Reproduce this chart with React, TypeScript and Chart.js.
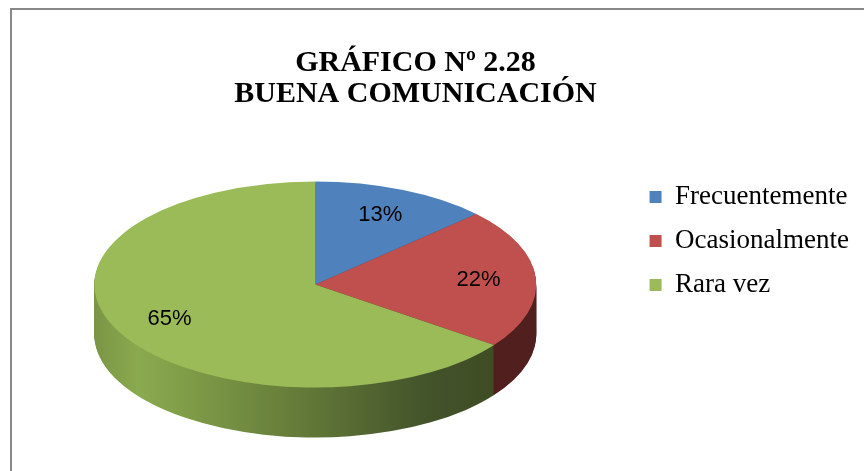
import React, { useEffect, useRef } from 'react';
import { Chart, registerables } from 'chart.js';

Chart.register(...registerables);

// ---- data ----
const categories = ['Frecuentemente', 'Ocasionalmente', 'Rara vez'];
const values = [13, 22, 65];
const titleLines = ['GRÁFICO Nº 2.28', 'BUENA COMUNICACIÓN'];

// ---- styles ----
const topColors = ['#4F81BD', '#C0504D', '#9BBB59'];
const RX = 221;
const RY = 103;
const DEPTH = 50;
const PIE_DX = -1;
const PIE_DY = -11;
const LABEL_F = 0.74;

function pieGeom(chart: any, el: any) {
  const area = chart.chartArea;
  const r = el.outerRadius;
  return {
    tx: (area.left + area.right) / 2 + PIE_DX,
    ty: (area.top + area.bottom) / 2 + PIE_DY,
    sx: RX / r,
    sy: RY / r,
    cx: el.x,
    cy: el.y,
    r,
  };
}

const framePlugin = {
  id: 'frame',
  beforeDraw(chart: any) {
    const ctx = chart.ctx;
    ctx.save();
    ctx.strokeStyle = '#888888';
    ctx.lineWidth = 2;
    ctx.beginPath();
    ctx.moveTo(11, chart.height + 5);
    ctx.lineTo(11, 9);
    ctx.lineTo(chart.width + 5, 9);
    ctx.stroke();
    ctx.restore();
  },
};

const pie3dPlugin = {
  id: 'pie3d',
  beforeDatasetsDraw(chart: any) {
    const els = chart.getDatasetMeta(0).data;
    const ctx = chart.ctx;
    ctx.save();
    if (!els.length) return;
    const g = pieGeom(chart, els[0]);
    const grad = ctx.createLinearGradient(g.cx - g.r, 0, g.cx + g.r, 0);
    grad.addColorStop(0, '#7a9545');
    grad.addColorStop(0.1, '#8aaa4f');
    grad.addColorStop(0.25, '#7b9745');
    grad.addColorStop(0.5, '#607637');
    grad.addColorStop(0.75, '#43532a');
    grad.addColorStop(1, '#3c4821');
    const redGrad = ctx.createLinearGradient(g.cx - g.r, 0, g.cx + g.r, 0);
    redGrad.addColorStop(0, '#4a1a1a');
    redGrad.addColorStop(1, '#521f1f');
    const sideFill = ['#2c4869', redGrad, grad];
    for (let d = DEPTH; d >= 1; d--) {
      ctx.save();
      ctx.translate(g.tx, g.ty + d);
      ctx.scale(g.sx, g.sy);
      ctx.translate(-g.cx, -g.cy);
      els.forEach((el: any, i: number) => {
        const clone = Object.create(el);
        clone.options = { ...el.options, backgroundColor: sideFill[i], borderWidth: 0 };
        clone.draw(ctx);
      });
      ctx.restore();
    }
    ctx.translate(g.tx, g.ty);
    ctx.scale(g.sx, g.sy);
    ctx.translate(-g.cx, -g.cy);
  },
  afterDatasetsDraw(chart: any) {
    const ctx = chart.ctx;
    ctx.restore();
    const els = chart.getDatasetMeta(0).data;
    if (!els.length) return;
    const g = pieGeom(chart, els[0]);
    const total = values.reduce((a, b) => a + b, 0);
    ctx.save();
    ctx.fillStyle = '#000000';
    ctx.font = '22px "Liberation Sans"';
    ctx.textAlign = 'center';
    ctx.textBaseline = 'middle';
    els.forEach((el: any, i: number) => {
      const mid = (el.startAngle + el.endAngle) / 2;
      const ux = Math.cos(mid) * g.r * LABEL_F;
      const uy = Math.sin(mid) * g.r * LABEL_F;
      const X = g.tx + ux * g.sx;
      const Y = g.ty + uy * g.sy;
      ctx.fillText(Math.round((values[i] / total) * 100) + '%', X, Y);
    });
    ctx.restore();
  },
};

export default function App() {
  const ref = useRef<HTMLCanvasElement | null>(null);
  useEffect(() => {
    if (!ref.current) return;
    const chart = new Chart(ref.current, {
      type: 'pie',
      data: {
        labels: categories,
        datasets: [
          {
            data: values,
            backgroundColor: topColors,
            borderWidth: 0,
            clip: false as any,
          },
        ],
      },
      options: {
        responsive: true,
        maintainAspectRatio: false,
        animation: false,
        events: [],
        layout: { padding: { left: -28, right: 5, top: 11, bottom: 0 } },
        plugins: {
          title: {
            display: true,
            text: titleLines,
            color: '#000000',
            font: { family: '"Liberation Serif"', size: 30, weight: 'bold', lineHeight: 1.033 },
            padding: { top: 37, bottom: 10 },
          },
          legend: {
            position: 'right',
            labels: {
              boxWidth: 12,
              boxHeight: 12,
              padding: 17,
              color: '#000000',
              font: { family: '"Liberation Serif"', size: 27 },
            },
          },
          tooltip: { enabled: false },
        },
      } as any,
      plugins: [framePlugin, pie3dPlugin],
    });
    return () => chart.destroy();
  }, []);
  return (
    <div style={{ position: 'absolute', left: 0, top: 0, width: 864, height: 471, background: '#ffffff' }}>
      <canvas ref={ref} />
    </div>
  );
}
